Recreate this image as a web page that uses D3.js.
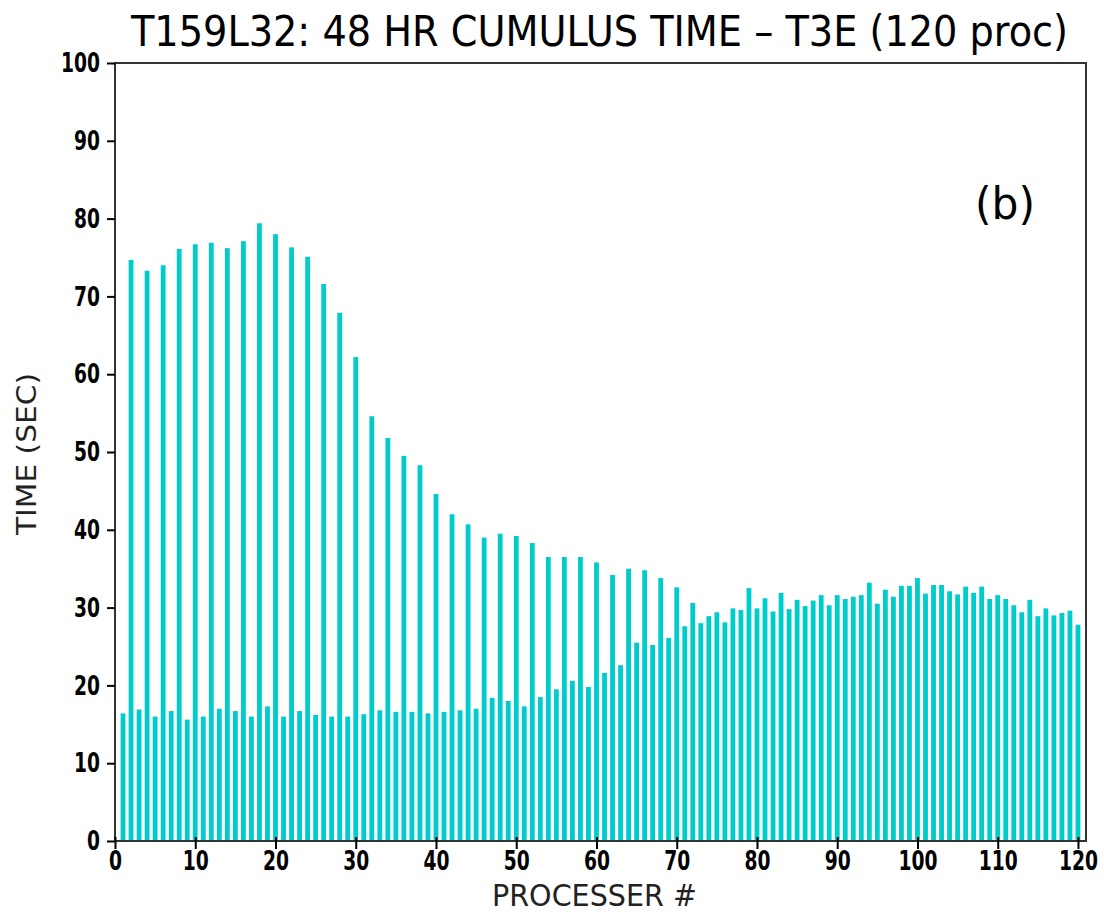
<!DOCTYPE html>
<html>
<head>
<meta charset="utf-8">
<script src="https://cdn.jsdelivr.net/npm/d3@7/dist/d3.min.js"></script>
<style>
  body { margin: 0; background: #fff; }
  svg { display: block; }
  text { font-family: "Liberation Sans Narrow", "DejaVu Sans Condensed", "Liberation Sans", sans-serif; }
</style>
</head>
<body>
<svg id="chart" width="1104" height="912"></svg>
<script>
const titleText = "T159L32: 48 HR CUMULUS TIME \u2013 T3E (120 proc)";
const xLabel = "PROCESSER #";
const yLabel = "TIME (SEC)";
const panelLabel = "(b)";

const processors = d3.range(1, 121);
const times = [
  16.4, 74.7, 16.9, 73.3, 16.0, 74.0, 16.7, 76.1, 15.6, 76.7,
  16.0, 76.9, 17.0, 76.2, 16.7, 77.1, 16.0, 79.4, 17.3, 78.0,
  16.0, 76.3, 16.7, 75.1, 16.2, 71.6, 16.0, 67.9, 16.0, 62.2,
  16.3, 54.6, 16.8, 51.8, 16.6, 49.5, 16.6, 48.3, 16.4, 44.6,
  16.6, 42.0, 16.8, 40.7, 17.0, 39.0, 18.4, 39.5, 18.0, 39.2,
  17.3, 38.3, 18.5, 36.5, 19.5, 36.5, 20.6, 36.5, 19.8, 35.8,
  21.6, 34.2, 22.6, 35.0, 25.5, 34.8, 25.2, 33.8, 26.1, 32.6,
  27.6, 30.6, 28.0, 28.9, 29.4, 28.1, 29.9, 29.7, 32.5, 29.9,
  31.2, 29.5, 31.9, 29.8, 31.0, 30.2, 30.9, 31.6, 30.3, 31.6,
  31.1, 31.4, 31.6, 33.2, 30.5, 32.3, 31.4, 32.8, 32.8, 33.8,
  31.8, 32.9, 32.9, 32.1, 31.7, 32.7, 31.9, 32.7, 31.1, 31.6,
  31.1, 30.3, 29.4, 31.0, 28.9, 29.9, 29.0, 29.3, 29.6, 27.8
];
const xTicks = d3.range(0, 121, 10);
const yTicks = d3.range(0, 101, 10);

const svg = d3.select("#chart");
const mLeft = 115, mRight = 1086, mTop = 63, mBottom = 841;

const x = d3.scaleLinear().domain([0, 121]).range([mLeft, mRight]);
const y = d3.scaleLinear().domain([0, 100]).range([mBottom, mTop]);

const barW = x(0.6) - x(0);
const barColor = "#00cccc";

// bars
svg.append("g")
  .selectAll("rect")
  .data(processors)
  .join("rect")
  .attr("x", (d) => x(d) - barW / 2)
  .attr("y", (d, i) => y(times[i]))
  .attr("width", barW)
  .attr("height", (d, i) => y(0) - y(times[i]))
  .attr("fill", barColor);

// frame
svg.append("rect")
  .attr("x", mLeft).attr("y", mTop)
  .attr("width", mRight - mLeft).attr("height", mBottom - mTop)
  .attr("fill", "none")
  .attr("stroke", "#333")
  .attr("stroke-width", 2);

const digitW = 13;

// y axis
const yAxis = d3.axisLeft(y).tickValues(yTicks).tickSize(8).tickPadding(7);
const gy = svg.append("g").attr("transform", `translate(${mLeft},0)`).call(yAxis);
gy.select(".domain").remove();
gy.selectAll(".tick line").attr("stroke", "#000").attr("stroke-width", 2);
gy.selectAll(".tick text")
  .attr("fill", "#000")
  .attr("textLength", (d) => String(d).length * digitW)
  .attr("lengthAdjust", "spacingAndGlyphs")
  .style("font-size", "27px")
  .style("font-weight", "bold");

// x axis
const xAxis = d3.axisBottom(x).tickValues(xTicks).tickSize(8).tickPadding(3);
const gx = svg.append("g").attr("transform", `translate(0,${mBottom})`).call(xAxis);
gx.select(".domain").remove();
gx.selectAll(".tick line").attr("stroke", "#000").attr("stroke-width", 2).attr("y1", -4);
gx.selectAll(".tick text")
  .attr("fill", "#000")
  .attr("textLength", (d) => String(d).length * digitW)
  .attr("lengthAdjust", "spacingAndGlyphs")
  .style("font-size", "26px")
  .style("font-weight", "bold");

// title
svg.append("text")
  .attr("x", 131).attr("y", 46)
  .attr("textLength", 937)
  .attr("lengthAdjust", "spacingAndGlyphs")
  .style("font-size", "42px")
  .attr("fill", "#000")
  .text(titleText);

// x label
svg.append("text")
  .attr("x", 492).attr("y", 906)
  .attr("textLength", 205)
  .attr("lengthAdjust", "spacingAndGlyphs")
  .style("font-size", "30px")
  .attr("fill", "#222")
  .text(xLabel);

// y label
svg.append("text")
  .attr("transform", "translate(36,535) rotate(-90)")
  .attr("textLength", 162)
  .attr("lengthAdjust", "spacingAndGlyphs")
  .style("font-size", "27px")
  .attr("fill", "#222")
  .text(yLabel);

// panel label
svg.append("text")
  .attr("x", 975).attr("y", 219)
  .attr("textLength", 60)
  .attr("lengthAdjust", "spacingAndGlyphs")
  .style("font-size", "44px")
  .attr("fill", "#000")
  .text(panelLabel);
</script>
</body>
</html>
